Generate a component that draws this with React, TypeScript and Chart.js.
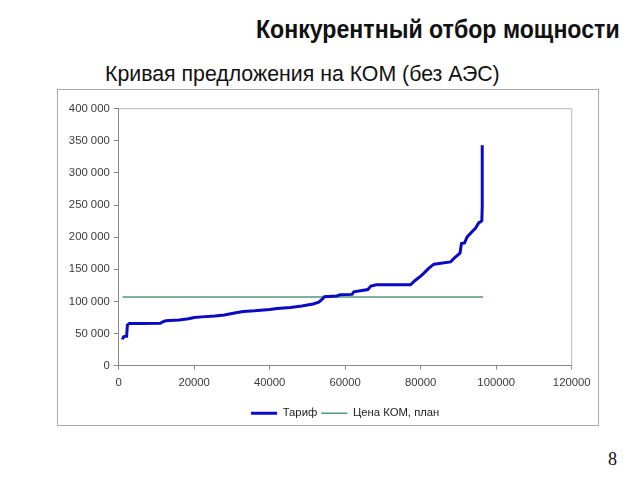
import React, { useEffect, useLayoutEffect, useRef } from "react";
import { Chart, registerables } from "chart.js";

Chart.register(...registerables);

// Supply curve (MW cumulative, tariff)
const supplyMW = [
  960, 1300, 1900, 2100, 2300, 2800, 6000, 11000, 11800, 12500, 16000, 18500,
  20000, 22000, 25500, 28000, 30700, 33000, 36000, 40000, 42000, 45500, 48500,
  51500, 53000, 54000, 54500, 57800, 58700, 61800, 62300, 66000, 66800, 68300,
  77300, 78600, 80000, 80800, 82100, 83500, 87900, 88800, 90400, 90800, 91600,
  92300, 93600, 94500, 95400, 95900, 96200, 96300, 96300,
];
const tariff = [
  41000, 45000, 46000, 46000, 63000, 65500, 65500, 66000, 68500, 70000, 71000,
  73000, 75000, 76000, 77500, 79000, 82000, 84500, 85500, 87500, 89000, 90500,
  93000, 96000, 99000, 104000, 107500, 108500, 110500, 111000, 115000, 118500,
  124000, 126000, 126000, 133000, 139500, 143800, 151500, 158000, 161500,
  167000, 175000, 190000, 191000, 200500, 208500, 214000, 222500, 224000,
  226000, 248000, 343000,
];
const planMW = [1000, 96500];
const planPrice = [107000, 107000];

const xTickValues = [0, 20000, 40000, 60000, 80000, 100000, 120000];
const yTickValues = [0, 50000, 100000, 150000, 200000, 250000, 300000, 350000, 400000];

const seriesNames = ["Тариф", "Цена КОМ, план"];

const fmtSpace = (v: number) => String(v).replace(/\B(?=(\d{3})+(?!\d))/g, " ");

const framePlugin = {
  id: "frame",
  beforeDatasetsDraw(chart: any) {
    const { ctx, chartArea } = chart;
    ctx.save();
    ctx.strokeStyle = "#b8b8b8";
    ctx.lineWidth = 1;
    ctx.beginPath();
    ctx.moveTo(chartArea.left, chartArea.top);
    ctx.lineTo(chartArea.right, chartArea.top);
    ctx.lineTo(chartArea.right, chartArea.bottom);
    ctx.stroke();
    ctx.restore();
  },
};

const chartFont = "'Liberation Sans', Arial, sans-serif";

export default function App() {
  const ref = useRef<HTMLCanvasElement | null>(null);
  const titleRef = useRef<HTMLSpanElement | null>(null);

  useLayoutEffect(() => {
    const el = titleRef.current;
    if (!el) return;
    const w = el.offsetWidth;
    const target = 364;
    if (w > 0) el.style.transform = `scaleX(${target / w})`;
  }, []);

  useEffect(() => {
    if (!ref.current) return;
    const chart = new Chart(ref.current, {
      type: "scatter",
      data: {
        datasets: [
          {
            label: seriesNames[0],
            data: supplyMW.map((x, i) => ({ x, y: tariff[i] })),
            showLine: true,
            borderColor: "#0a0ac4",
            backgroundColor: "#0a0ac4",
            borderWidth: 3,
            pointRadius: 0,
            tension: 0,
          },
          {
            label: seriesNames[1],
            data: planMW.map((x, i) => ({ x, y: planPrice[i] })),
            showLine: true,
            borderColor: "#4f9a78",
            backgroundColor: "#4f9a78",
            borderWidth: 1.5,
            pointRadius: 0,
            tension: 0,
          },
        ],
      },
      options: {
        animation: false,
        responsive: false,
        maintainAspectRatio: false,
        layout: { padding: { top: 17.7, right: 26.3, bottom: 0, left: 0 } },
        plugins: {
          tooltip: { enabled: false },
          legend: {
            position: "bottom",
            fullSize: false,
            labels: {
              usePointStyle: true,
              pointStyle: "line",
              pointStyleWidth: 26,
              padding: 4,
              color: "#222",
              font: { family: chartFont, size: 11.3 },
            },
          },
        },
        scales: {
          x: {
            type: "linear",
            min: 0,
            max: 120000,
            afterBuildTicks: (s: any) => {
              s.ticks = xTickValues.map((v) => ({ value: v }));
            },
            afterFit: (s: any) => {
              s.height = 38;
            },
            ticks: {
              color: "#3a3a3a",
              padding: 6,
              maxRotation: 0,
              font: { family: chartFont, size: 11.3 },
              callback: (v: any) => String(v),
            },
            grid: { drawOnChartArea: false, drawTicks: true, tickLength: 4, color: "#888" },
            border: { display: true, color: "#888", width: 1 },
          },
          y: {
            type: "linear",
            min: 0,
            max: 400000,
            afterBuildTicks: (s: any) => {
              s.ticks = yTickValues.map((v) => ({ value: v }));
            },
            afterFit: (s: any) => {
              s.width = 60.7;
            },
            ticks: {
              color: "#3a3a3a",
              padding: 4,
              font: { family: chartFont, size: 11.3 },
              callback: (v: any) => fmtSpace(Number(v)),
            },
            grid: { drawOnChartArea: false, drawTicks: true, tickLength: 5, color: "#888" },
            border: { display: true, color: "#888", width: 1 },
          },
        },
      },
      plugins: [framePlugin],
    });
    return () => chart.destroy();
  }, []);

  return (
    <div style={{ position: "relative", width: 640, height: 480, margin: -8, background: "#fff", overflow: "hidden" }}>
      <div
        style={{
          position: "absolute",
          right: 20,
          top: 16.3,
          whiteSpace: "nowrap",
        }}
      >
        <span
          ref={titleRef}
          style={{
            display: "inline-block",
            transformOrigin: "right center",
            fontFamily: "'Liberation Sans', Arial, sans-serif",
            fontWeight: "bold",
            fontSize: 26,
            lineHeight: "26px",
            color: "#111",
          }}
        >
          Конкурентный отбор мощности
        </span>
      </div>
      <div
        style={{
          position: "absolute",
          left: 105,
          top: 63.5,
          fontFamily: "'Liberation Sans', Arial, sans-serif",
          fontSize: 21.3,
          lineHeight: "21px",
          color: "#111",
          whiteSpace: "nowrap",
        }}
      >
        Кривая предложения на КОМ (без АЭС)
      </div>
      <canvas
        ref={ref}
        width={540}
        height={338}
        style={{ position: "absolute", left: 58, top: 91, width: 540, height: 338 }}
      />
      <div
        style={{
          position: "absolute",
          left: 57,
          top: 89,
          width: 540,
          height: 335,
          border: "1px solid #a8a8a8",
          pointerEvents: "none",
        }}
      />
      <div
        style={{
          position: "absolute",
          left: 608,
          top: 449,
          fontFamily: "'Liberation Serif', 'Times New Roman', serif",
          fontSize: 18,
          lineHeight: "20px",
          color: "#111",
        }}
      >
        8
      </div>
    </div>
  );
}
